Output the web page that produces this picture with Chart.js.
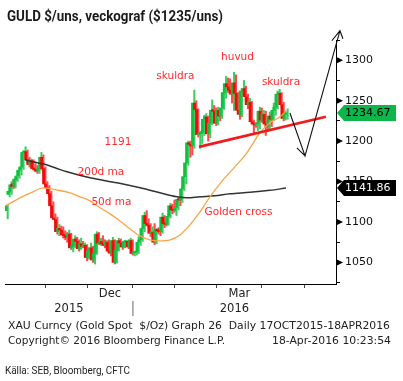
<!DOCTYPE html>
<html><head><meta charset="utf-8">
<script src="https://cdn.jsdelivr.net/npm/chart.js@4.4.0/dist/chart.umd.min.js"></script>
<style>
html,body{margin:0;padding:0;background:#fff;}
#wrap{position:relative;width:403px;height:381px;overflow:hidden;background:#fff;}
canvas{position:absolute;left:0;top:0;}
.t{position:absolute;white-space:nowrap;transform-origin:0 50%;line-height:1;color:#1a1a1a;}
</style></head><body>
<div id="wrap">
<canvas id="c" width="403" height="381"></canvas>
<div class="t" id="title" style="left:7px;top:8px;font:bold 14.5px 'Roboto','DejaVu Sans',sans-serif;">GULD $/uns, veckograf ($1235/uns)</div>
<div class="t" id="f1" style="left:8px;top:320px;font:10px 'DejaVu Sans',sans-serif;color:#222;">XAU Curncy (Gold Spot &nbsp;$/Oz) Graph 26 &nbsp;Daily 17OCT2015-18APR2016</div>
<div class="t" id="f2" style="left:8px;top:335px;font:10px 'DejaVu Sans',sans-serif;color:#222;">Copyright© 2016 Bloomberg Finance L.P.</div>
<div class="t" id="f3" style="left:272px;top:335px;font:10px 'DejaVu Sans',sans-serif;color:#222;">18-Apr-2016 10:23:54</div>
<div class="t" id="src" style="left:5px;top:364px;font:11px 'Roboto','DejaVu Sans',sans-serif;color:#222;">Källa: SEB, Bloomberg, CFTC</div>
</div>
<script>
// ---- data (trading-day index from start of series) ----
const opens  = [1114,1134,1137,1147,1144,1152,1157,1164,1168,1186,1187,1177,1171,1176,1166,1165,1163,1166,1180,1166,1147,1142,1135,1120,1105,1103,1088,1092,1090,1084,1083,1081,1085,1068,1070,1079,1076,1067,1073,1070,1071,1056,1064,1068,1053,1061,1085,1074,1076,1073,1071,1075,1064,1062,1077,1050,1065,1077,1074,1069,1075,1076,1069,1077,1061,1062,1063,1075,1078,1092,1108,1098,1096,1086,1087,1075,1090,1089,1088,1106,1098,1097,1107,1120,1115,1114,1118,1128,1127,1141,1156,1173,1198,1196,1194,1247,1239,1208,1209,1210,1227,1230,1209,1222,1238,1237,1222,1238,1231,1241,1260,1271,1267,1263,1258,1272,1259,1238,1233,1262,1265,1255,1245,1248,1224,1221,1220,1222,1237,1226,1233,1221,1218,1231,1227,1238,1242,1258,1259,1245,1228,1233];
const highs  = [1122,1142,1150,1152,1157,1163,1167,1170,1188,1193,1189,1180,1178,1177,1172,1170,1168,1186,1183,1168,1150,1145,1138,1125,1110,1106,1097,1095,1094,1089,1087,1090,1086,1074,1083,1081,1078,1080,1076,1074,1072,1068,1074,1070,1066,1088,1087,1080,1083,1078,1077,1078,1068,1081,1078,1068,1080,1079,1076,1077,1077,1078,1080,1078,1064,1064,1082,1083,1095,1112,1114,1104,1098,1094,1098,1092,1093,1092,1111,1108,1103,1110,1123,1122,1127,1123,1130,1131,1144,1157,1174,1200,1200,1200,1263,1250,1240,1212,1214,1232,1234,1231,1227,1251,1244,1241,1242,1240,1244,1264,1280,1278,1277,1265,1285,1282,1260,1242,1264,1275,1268,1258,1253,1249,1226,1223,1226,1242,1241,1238,1237,1225,1236,1233,1247,1248,1262,1264,1260,1248,1237,1240];
const lows   = [1104,1131,1134,1141,1142,1150,1154,1158,1165,1180,1174,1168,1167,1164,1162,1160,1160,1164,1158,1145,1137,1132,1118,1103,1100,1085,1083,1085,1080,1078,1075,1078,1066,1063,1068,1070,1064,1066,1068,1067,1052,1054,1062,1050,1048,1060,1072,1071,1071,1068,1067,1061,1058,1060,1048,1049,1064,1070,1066,1068,1073,1067,1068,1059,1058,1059,1061,1071,1076,1088,1095,1093,1082,1080,1072,1073,1085,1083,1086,1093,1095,1096,1105,1110,1112,1108,1115,1120,1124,1139,1147,1170,1180,1183,1191,1233,1205,1191,1197,1207,1218,1200,1204,1220,1230,1219,1220,1225,1228,1239,1253,1260,1260,1247,1238,1255,1235,1227,1230,1255,1250,1240,1240,1222,1208,1217,1213,1215,1223,1222,1207,1212,1215,1218,1225,1232,1240,1247,1242,1225,1226,1227];
const closes = [1120,1138,1146,1144,1153,1156,1164,1168,1186,1187,1177,1171,1176,1166,1165,1163,1166,1180,1166,1147,1142,1135,1120,1105,1103,1088,1092,1090,1084,1083,1081,1085,1068,1070,1079,1076,1067,1073,1070,1071,1056,1064,1068,1053,1061,1085,1074,1076,1073,1071,1075,1064,1062,1077,1050,1065,1077,1074,1069,1075,1076,1069,1077,1061,1062,1063,1075,1078,1092,1108,1098,1096,1086,1087,1075,1090,1089,1088,1106,1098,1097,1107,1120,1115,1114,1118,1128,1127,1141,1156,1173,1198,1196,1194,1247,1239,1208,1209,1210,1227,1230,1209,1222,1238,1237,1222,1238,1231,1241,1260,1271,1267,1263,1258,1272,1259,1238,1233,1262,1265,1255,1245,1248,1224,1221,1220,1222,1237,1226,1233,1221,1218,1231,1227,1238,1242,1258,1259,1245,1228,1233,1234.67];

// moving averages (index, value)
const ma200X = [9.1,13.1,18.1,24.2,30.2,41.8,55.4,67.0,77.0,85.6,90.6,97.2,104.7,112.3,122.4,132.4,140.5];
const ma200Y = [1176.9,1174.4,1171.9,1167.0,1162.0,1154.6,1148.4,1142.2,1136.0,1131.1,1129.8,1131.1,1132.3,1134.8,1136.6,1139.1,1141.86];
const ma50X  = [-0.5,6.5,13.1,18.1,24.7,31.7,36.8,41.8,46.8,51.9,56.9,61.9,67.0,72.0,77.0,82.1,87.1,92.1,97.2,102.2,108.8,114.8,120.8,127.4,132.4,137.5,140.5];
const ma50Y  = [1119.9,1129.8,1137.3,1142.2,1139.7,1136.0,1131.1,1126.1,1117.5,1110.0,1101.3,1091.5,1082.8,1077.8,1076.6,1077.8,1084.0,1096.4,1112.5,1131.1,1152.1,1168.2,1185.5,1210.3,1222.7,1230.1,1237.5];

// neckline and hand-drawn arrows (index, value); null breaks a stroke
const neckX  = [96.7,160.6];
const neckY  = [1192.9,1230.1];
const arrowX = [142.5,150.1,167.7,null,146.0,150.1,null,163.6,167.7,169.2];
const arrowY = [1234.7,1181.8,1336.5,null,1191.7,1181.8,null,1324.1,1336.5,1326.6];

// text annotations
const notes = [
  {text:'skuldra', x:84.8, y:1279.6},
  {text:'huvud', x:116.1, y:1303.1},
  {text:'skuldra', x:138.0, y:1272.2},
  {text:'1191', x:55.9, y:1198.5},
  {text:'200d ma', x:47.3, y:1161.4},
  {text:'50d ma', x:52.6, y:1124.3},
  {text:'Golden cross', x:116.6, y:1112.5}
];

// axes
const monthTicks = [19.6,40.3,63.4,84.6,105.7,128.4,149.6];
const monthNames = ['Nov','Dec','Jan','Feb','Mar','Apr'];
const shownMonths = ['Dec','Mar'];
const years = ['2015','2016'];
const yearBoundary = 63.4;
const yTicks = [1025,1050,1075,1100,1125,1150,1175,1200,1225,1250,1275,1300,1325];
const yLabels = [1050,1100,1150,1200,1250,1300];

// ---- build ----
const GREEN='#10c040', RED='#f20a0a', GREEN_W='#3fcc63', RED_W='#ff4a4a';
const up = closes.map((c,i)=>c>=opens[i]);
const idx = closes.map((c,i)=>i);
const pts = (xs,ys)=>xs.map((v,i)=>({x:v===null?NaN:v, y:ys[i]}));

const deco = {
  id:'deco',
  afterDraw(chart){
    const {ctx, chartArea:a, scales:{x,y}} = chart;
    ctx.save();
    ctx.fillStyle='#000';
    yLabels.forEach(v=>{const py=y.getPixelForValue(v);ctx.beginPath();ctx.moveTo(a.right,py-3.5);ctx.lineTo(a.right+7,py);ctx.lineTo(a.right,py+3.5);ctx.closePath();ctx.fill();});
    ctx.fillStyle='#222';ctx.textAlign='center';ctx.textBaseline='middle';
    ctx.font='11.5px "DejaVu Sans"';
    monthNames.forEach((m,k)=>{ if(!shownMonths.includes(m)) return;
      const px=(x.getPixelForValue(monthTicks[k])+x.getPixelForValue(monthTicks[k+1]))/2;
      ctx.fillText(m,px,a.bottom+10.5);});
    const yb=x.getPixelForValue(yearBoundary);
    ctx.fillText(years[0],(a.left+yb)/2,a.bottom+25.5);
    ctx.fillText(years[1],(yb+a.right)/2,a.bottom+25.5);
    ctx.strokeStyle='#9a9a9a';ctx.lineWidth=1.5;ctx.beginPath();ctx.moveTo(yb,a.bottom+17);ctx.lineTo(yb,a.bottom+32);ctx.stroke();
    ctx.fillStyle='#ff2a2a';ctx.font='10.5px "DejaVu Sans"';
    notes.forEach(n=>ctx.fillText(n.text,x.getPixelForValue(n.x),y.getPixelForValue(n.y)));
    const tag=(v,fill,col)=>{const py=y.getPixelForValue(v);const x0=a.right+1,xr=396,h=8;
      ctx.fillStyle=fill;ctx.beginPath();ctx.moveTo(x0,py);ctx.lineTo(x0+7,py-h);ctx.lineTo(xr,py-h);ctx.lineTo(xr,py+h);ctx.lineTo(x0+7,py+h);ctx.closePath();ctx.fill();
      ctx.fillStyle=col;ctx.font='11px "DejaVu Sans"';ctx.textAlign='left';ctx.fillText(v.toFixed(2),x0+8,py+0.5);};
    tag(closes[closes.length-1],'#0db54a','#000');
    tag(ma200Y[ma200Y.length-1],'#000','#fff');
    ctx.restore();
  }
};

Chart.defaults.font.family='DejaVu Sans';
new Chart(document.getElementById('c'),{
  type:'bar',
  data:{datasets:[
    {type:'bar',order:5,data:idx.map(i=>({x:i,y:[lows[i],highs[i]]})),backgroundColor:up.map(u=>u?GREEN_W:RED_W),barThickness:1.4,borderWidth:0},
    {type:'bar',order:4,data:idx.map(i=>({x:i,y:[opens[i],closes[i]]})),backgroundColor:up.map(u=>u?GREEN:RED),barThickness:2.2,borderWidth:0,minBarLength:1.5},
    {type:'line',order:3,data:pts(ma200X,ma200Y),borderColor:'#333',borderWidth:1.5,pointRadius:0,cubicInterpolationMode:'monotone'},
    {type:'line',order:2,data:pts(ma50X,ma50Y),borderColor:'#f9a545',borderWidth:1.3,pointRadius:0,cubicInterpolationMode:'monotone'},
    {type:'line',order:1,data:pts(neckX,neckY),borderColor:'#f01c1c',borderWidth:2.8,pointRadius:0,clip:false},
    {type:'line',order:0,data:pts(arrowX,arrowY),borderColor:'#111',borderWidth:1.1,pointRadius:0,spanGaps:false,clip:false}
  ]},
  options:{
    responsive:false,animation:false,devicePixelRatio:1,
    layout:{padding:{left:5,top:40,right:0,bottom:0}},
    plugins:{legend:{display:false},tooltip:{enabled:false}},
    scales:{
      x:{type:'linear',position:'bottom',min:-1,max:165.7,offset:false,
        afterBuildTicks:s=>{s.ticks=monthTicks.map(v=>({value:v}));},
        afterFit:s=>{s.height=97;},
        ticks:{display:false},
        grid:{drawOnChartArea:false,drawTicks:true,tickLength:4,color:'#444',offset:false},
        border:{display:true,color:'#000',width:1}},
      y:{type:'linear',position:'right',min:1023.3,max:1325,
        afterBuildTicks:s=>{s.ticks=yTicks.map(v=>({value:v}));},
        afterFit:s=>{s.width=67;},
        ticks:{autoSkip:false,padding:5,color:'#111',font:{family:'DejaVu Sans',size:11},callback:v=>yLabels.includes(v)?String(v):''},
        grid:{drawOnChartArea:false,drawTicks:true,tickLength:4,color:'#000'},
        border:{display:true,color:'#000',width:1}}
    }
  },
  plugins:[deco]
});

function fit(id,w){const el=document.getElementById(id);el.style.transform='none';const r=el.getBoundingClientRect().width;if(r>0)el.style.transform='scaleX('+(w/r)+')';}
function fitAll(){fit('title',216);fit('f1',382);fit('f2',217);fit('f3',119);fit('src',125);}
fitAll();
if(document.fonts&&document.fonts.ready)document.fonts.ready.then(fitAll);
</script>
</body></html>
